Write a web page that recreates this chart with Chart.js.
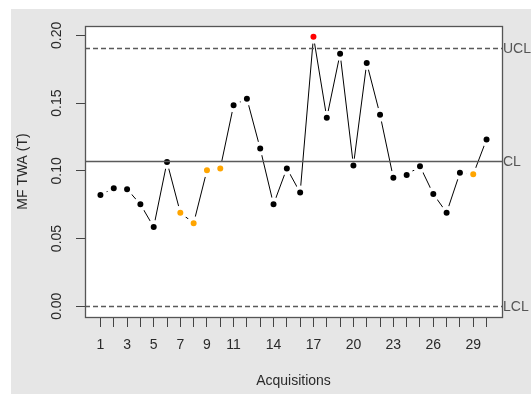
<!DOCTYPE html>
<html>
<head>
<meta charset="utf-8">
<script src="https://cdn.jsdelivr.net/npm/chart.js@4.4.1/dist/chart.umd.min.js"></script>
<style>
  html, body { margin: 0; padding: 0; background: #fff; }
  #wrap { width: 531px; height: 394px; }
</style>
</head>
<body>
<div id="wrap"><canvas id="chart" width="531" height="394"></canvas></div>
<script>
// qcc style chart, MF TWA per acquisition
const acquisitions = Array.from({ length: 30 }, (_, i) => i + 1);
const mfTwa = [
  0.0821, 0.0871, 0.0864, 0.0753, 0.0585, 0.1065, 0.0691, 0.0613, 0.1004, 0.1018,
  0.1484, 0.1533, 0.1164, 0.0753, 0.1018, 0.0839, 0.1990, 0.1392, 0.1865, 0.1040,
  0.1796, 0.1414, 0.0948, 0.0970, 0.1033, 0.0829, 0.0691, 0.0985, 0.0974, 0.1232
];
const beyondLimits = [17];
const violatingRuns = [7, 8, 9, 10, 29];
const ucl = 0.1904;
const cl = 0.107;
const lcl = 0;
const yTicks = [0, 0.05, 0.10, 0.15, 0.20];
const xTickLabels = [1, 3, 5, 7, 9, 11, 14, 17, 20, 23, 26, 29];

const pointColors = acquisitions.map((a) =>
  beyondLimits.includes(a) ? '#ff0000' : violatingRuns.includes(a) ? '#ffa500' : '#000000');

// R extends axis ranges by 4%
const yLo = Math.min(lcl, ...mfTwa), yHi = Math.max(ucl, ...mfTwa);
const xLo = acquisitions[0], xHi = acquisitions[acquisitions.length - 1];
const yPad = (yHi - yLo) * 0.04, xPad = (xHi - xLo) * 0.04;

const font = '"Liberation Sans", Arial, sans-serif';

const background = {
  id: 'background',
  beforeDraw(chart) {
    const { ctx, chartArea: a } = chart;
    ctx.save();
    ctx.fillStyle = '#ffffff';
    ctx.fillRect(0, 0, chart.width, chart.height);
    ctx.fillStyle = '#e6e6e6';
    ctx.fillRect(11, 9, chart.width - 11, chart.height - 9);
    ctx.fillStyle = '#ffffff';
    ctx.fillRect(a.left, a.top, a.right - a.left, a.bottom - a.top);
    ctx.restore();
  }
};

const limits = {
  id: 'limits',
  afterDatasetsDraw(chart) {
    const { ctx, chartArea: a, scales: { y } } = chart;
    ctx.save();
    [['UCL', ucl, [5, 3]], ['CL', cl, []], ['LCL', lcl, [5, 3]]].forEach(([name, v, dash]) => {
      const py = Math.round(y.getPixelForValue(v)) + 0.5;
      ctx.strokeStyle = '#5a5a5a';
      ctx.lineWidth = 1.3;
      ctx.setLineDash(dash);
      ctx.beginPath();
      ctx.moveTo(a.left, py);
      ctx.lineTo(a.right, py);
      ctx.stroke();
      ctx.setLineDash([]);
      ctx.fillStyle = '#555555';
      ctx.font = '14px ' + font;
      ctx.textAlign = 'left';
      ctx.textBaseline = 'middle';
      ctx.fillText(name, a.right + 1, py + 1);
    });
    ctx.strokeStyle = '#555555';
    ctx.lineWidth = 1.3;
    ctx.strokeRect(a.left + 0.5, a.top + 0.5, a.right - a.left, a.bottom - a.top);
    ctx.restore();
  }
};

new Chart(document.getElementById('chart'), {
  type: 'line',
  data: {
    datasets: [{
      data: acquisitions.map((a, i) => ({ x: a, y: mfTwa[i] })),
      borderColor: '#000000',
      borderWidth: 1,
      pointBackgroundColor: pointColors,
      pointBorderColor: '#ffffff',
      pointBorderWidth: 4,
      pointRadius: 5,
      tension: 0
    }]
  },
  options: {
    responsive: false,
    animation: false,
    devicePixelRatio: 1,
    events: [],
    layout: { padding: { left: 0, right: 29, top: 26, bottom: 0 } },
    plugins: { legend: { display: false }, tooltip: { enabled: false } },
    scales: {
      x: {
        type: 'linear',
        min: xLo - xPad,
        max: xHi + xPad,
        afterBuildTicks: (s) => { s.ticks = acquisitions.map((v) => ({ value: v })); },
        afterFit: (s) => { s.height = 77; },
        grid: { drawOnChartArea: false, tickLength: 10, color: '#444', tickWidth: 1 },
        border: { display: false },
        ticks: {
          autoSkip: false,
          maxRotation: 0,
          padding: 10,
          color: '#2a2a2a',
          font: { family: font, size: 14 },
          callback: (v) => (xTickLabels.includes(v) ? String(v) : '')
        },
        title: {
          display: true,
          text: 'Acquisitions',
          color: '#2a2a2a',
          font: { family: font, size: 14 },
          padding: { top: 0, bottom: 4 }
        }
      },
      y: {
        min: yLo - yPad,
        max: yHi + yPad,
        afterBuildTicks: (s) => { s.ticks = yTicks.map((v) => ({ value: v })); },
        afterFit: (s) => { s.width = 85; },
        grid: { drawOnChartArea: false, tickLength: 9, color: '#444', tickWidth: 1 },
        border: { display: false },
        ticks: {
          minRotation: 90,
          maxRotation: 90,
          crossAlign: 'center',
          padding: 5,
          color: '#2a2a2a',
          font: { family: font, size: 14 },
          callback: (v) => v.toFixed(2)
        },
        title: {
          display: true,
          text: 'MF TWA (T)',
          color: '#2a2a2a',
          font: { family: font, size: 14 },
          padding: { top: 15, bottom: 0 }
        }
      }
    }
  },
  plugins: [background, limits]
});
</script>
</body>
</html>
